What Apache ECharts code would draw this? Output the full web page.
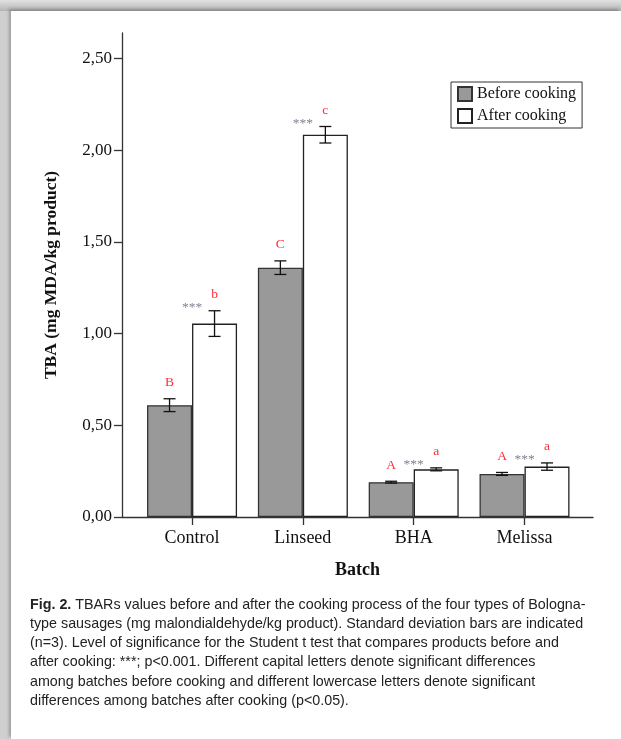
<!DOCTYPE html>
<html>
<head>
<meta charset="utf-8">
<script src="https://cdn.jsdelivr.net/npm/echarts@6/dist/echarts.min.js"></script>
<style>
  html, body { margin: 0; padding: 0; width: 621px; height: 739px; overflow: hidden; }
  body { background: linear-gradient(180deg, #e2e2e2 0px, #b4b4b4 11px, #cfcfcf 11px); position: relative; }
  #card { position: absolute; left: 11px; top: 11px; right: 0; bottom: 0; background: #fff;
          box-shadow: -2px -2px 3px rgba(0,0,0,0.25); }
  #chart { position: absolute; left: 0; top: 0; width: 621px; height: 739px; }
</style>
</head>
<body>
<div id="card"></div>
<div id="chart"></div>
<script>
// ---- data ----
const categories = ['Control', 'Linseed', 'BHA', 'Melissa'];
const beforeMean = [0.61, 1.36, 0.19, 0.235];
const beforeSD   = [0.035, 0.037, 0.005, 0.008];
const afterMean  = [1.055, 2.085, 0.26, 0.275];
const afterSD    = [0.07, 0.045, 0.008, 0.02];
const beforeLetters = ['B', 'C', 'A', 'A'];
const afterLetters  = ['b', 'c', 'a', 'a'];
const significance  = ['***', '***', '***', '***'];
const yTicks = [0, 0.5, 1, 1.5, 2, 2.5];
const xTicks = [0, 1, 2, 3];
const captionLines = [
  '{b|Fig. 2.} TBARs values before and after the cooking process of the four types of Bologna-',
  'type sausages (mg malondialdehyde/kg product). Standard deviation bars are indicated',
  '(n=3). Level of significance for the Student t test that compares products before and',
  'after cooking: ***; p<0.001. Different capital letters denote significant differences',
  'among batches before cooking and different lowercase letters denote significant',
  'differences among batches after cooking (p<0.05).'
];

// ---- styles ----
const SERIF = '"Liberation Serif", "DejaVu Serif", serif';
const SANS = '"Liberation Sans Narrow", "Liberation Sans", sans-serif';
const BAR_W = 45;
const LETTER_RED = '#ff2d3a';
const STAR_GREY = '#7c8290';

const chart = echarts.init(document.getElementById('chart'), null, { renderer: 'canvas' });

function errRenderer(side, letters, stars) {
  return function (params, api) {
    const i = params.dataIndex;
    const cat = api.value(0);
    const m = api.value(1);
    const sd = api.value(2);
    const c = api.coord([cat, m]);
    const x = c[0] + side * BAR_W / 2;
    const top = api.coord([cat, m + sd])[1];
    const bot = api.coord([cat, m - sd])[1];
    const ls = { stroke: '#111', lineWidth: 1.3 };
    const children = [
      { type: 'line', shape: { x1: x, y1: top, x2: x, y2: bot }, style: ls },
      { type: 'line', shape: { x1: x - 6, y1: top, x2: x + 6, y2: top }, style: ls },
      { type: 'line', shape: { x1: x - 6, y1: bot, x2: x + 6, y2: bot }, style: ls },
      { type: 'text', x: x, y: top - 16,
        style: { text: letters[i], fill: LETTER_RED, font: '13.5px ' + SERIF, align: 'center', verticalAlign: 'middle' } }
    ];
    if (stars) {
      children.push({ type: 'text', x: c[0], y: top - 3,
        style: { text: stars[i], fill: STAR_GREY, font: '13.5px ' + SERIF, align: 'center', verticalAlign: 'middle' } });
    }
    return { type: 'group', children: children };
  };
}

const option = {
  animation: false,
  title: {
    left: 25, top: 590,
    text: captionLines.join('\n'),
    textStyle: {
      fontFamily: SANS, fontSize: 14.3, lineHeight: 19.3, fontWeight: 'normal', color: '#222',
      rich: {
        b: { fontFamily: SANS, fontSize: 14.3, lineHeight: 19.3, fontWeight: 'bold', color: '#222' }
      }
    }
  },
  legend: {
    data: ['Before cooking', 'After cooking'],
    orient: 'vertical', left: 451, top: 82,
    padding: [4, 6], itemGap: 6, itemWidth: 14, itemHeight: 14,
    borderColor: '#333', borderWidth: 1, icon: 'rect',
    textStyle: { fontFamily: SERIF, fontSize: 16, color: '#111' }
  },
  grid: { left: 122, right: 28, top: 33, bottom: 222, containLabel: false },
  xAxis: {
    type: 'value', min: -0.632, max: 3.618,
    name: 'Batch', nameLocation: 'middle', nameGap: 44,
    nameTextStyle: { fontFamily: SERIF, fontSize: 18, fontWeight: 'bold', color: '#111' },
    axisLine: { lineStyle: { color: '#333', width: 1.3 } },
    axisTick: { show: true, length: 8, lineStyle: { color: '#333', width: 1.3 }, customValues: xTicks },
    axisLabel: { customValues: xTicks, formatter: v => categories[Math.round(v)], margin: 12,
                 fontFamily: SERIF, fontSize: 18, color: '#111' },
    splitLine: { show: false }
  },
  yAxis: {
    type: 'value', min: 0, max: 2.64,
    name: 'TBA (mg MDA/kg product)', nameLocation: 'middle', nameGap: 62, nameRotate: 90,
    nameTextStyle: { fontFamily: SERIF, fontSize: 17.5, fontWeight: 'bold', color: '#111' },
    axisLine: { show: true, onZero: false, lineStyle: { color: '#333', width: 1.3 } },
    axisTick: { show: true, length: 8, lineStyle: { color: '#333', width: 1.3 }, customValues: yTicks },
    axisLabel: { customValues: yTicks, formatter: v => v.toFixed(2).replace('.', ','), margin: 10,
                 fontFamily: SERIF, fontSize: 17, color: '#111' },
    splitLine: { show: false }
  },
  series: [
    {
      name: 'Before cooking', type: 'bar', barWidth: BAR_W, barGap: '0%',
      itemStyle: { color: '#999999', borderColor: '#333', borderWidth: 1.3 },
      data: beforeMean.map((v, i) => [xTicks[i], v])
    },
    {
      name: 'After cooking', type: 'bar', barWidth: BAR_W, barGap: '0%',
      itemStyle: { color: '#ffffff', borderColor: '#222', borderWidth: 1.3 },
      data: afterMean.map((v, i) => [xTicks[i], v])
    },
    {
      type: 'custom', z: 10, silent: true,
      renderItem: errRenderer(-1, beforeLetters, null),
      encode: { x: 0, y: 1 },
      data: beforeMean.map((v, i) => [xTicks[i], v, beforeSD[i]])
    },
    {
      type: 'custom', z: 10, silent: true,
      renderItem: errRenderer(1, afterLetters, significance),
      encode: { x: 0, y: 1 },
      data: afterMean.map((v, i) => [xTicks[i], v, afterSD[i]])
    }
  ]
};
chart.setOption(option);
</script>
</body>
</html>
